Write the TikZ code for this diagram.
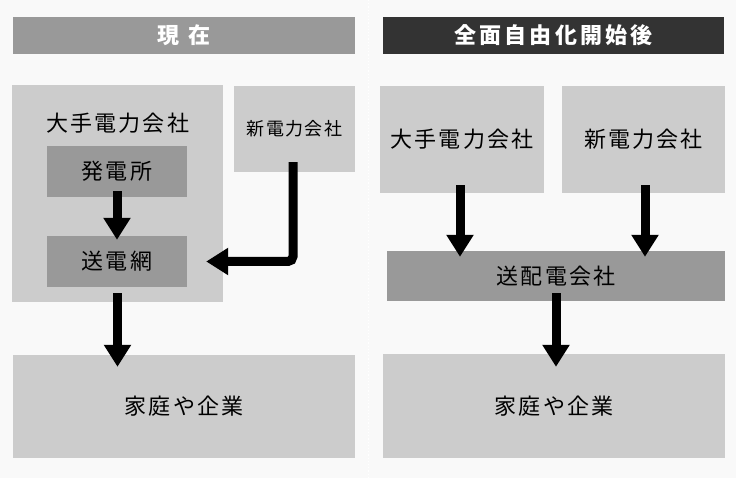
\documentclass[tikz,border=0pt]{standalone}
\usepackage{fontspec}
\usetikzlibrary{arrows.meta}
\newfontfamily\jp[LetterSpace=10]{Noto Sans CJK JP}
\newfontfamily\jps[LetterSpace=8]{Noto Sans CJK JP}
\newfontfamily\jph[LetterSpace=14]{Noto Sans CJK JP}
\definecolor{bgc}{HTML}{F9F9F9}
\definecolor{light}{HTML}{CCCCCC}
\definecolor{mid}{HTML}{999999}
\definecolor{dark}{HTML}{333333}
\tikzset{
  box/.style={fill=light, draw=none, inner sep=0pt, text=black, font=\jp\fontsize{22}{22}\selectfont},
  midbox/.style={box, fill=mid},
  head/.style={inner sep=0pt, text=white, font=\jph\fontsize{22}{22}\selectfont\bfseries},
  bigarrow/.style={line width=9pt, -{Triangle[width=26pt,length=22pt]}, black},
}
\begin{document}
\begin{tikzpicture}[x=1pt,y=-1pt]
\fill[bgc] (0,0) rectangle (736,478);
\useasboundingbox (0,0) rectangle (736,478);
\draw[white, line width=1.2pt, dotted] (368.5,0) -- (368.5,478);
% headers
\node[head, fill=mid, minimum width=342pt, minimum height=37pt] (hL) at (184,35.5) {現\hspace{0.45em}在};
\node[head, fill=dark, minimum width=341pt, minimum height=37pt] (hR) at (553.5,35.5) {全面自由化開始後};
% left panel
\node[box, minimum width=211pt, minimum height=217pt] (bigL) at (117.5,193.5) {};
\node[inner sep=0pt, font=\jp\fontsize{22}{22}\selectfont] (bigLlabel) at (117.5,123) {大手電力会社};
\node[midbox, minimum width=140pt, minimum height=51pt] (gen) at (117,171.5) {発電所};
\node[midbox, minimum width=140pt, minimum height=51pt] (grid) at (117,261.5) {送電網};
\node[box, minimum width=121pt, minimum height=86pt, font=\jps\fontsize{18}{18}\selectfont] (newL) at (294.5,129) {新電力会社};
\node[box, minimum width=342pt, minimum height=103pt] (homeL) at (184,406.5) {家庭や企業};
% right panel
\node[box, minimum width=164pt, minimum height=107pt] (bigR) at (462,139.5) {大手電力会社};
\node[box, minimum width=163pt, minimum height=107pt] (newR) at (643.5,139.5) {新電力会社};
\node[midbox, minimum width=338pt, minimum height=50pt] (tdR) at (556,276) {送配電会社};
\node[box, minimum width=342pt, minimum height=104pt] (homeR) at (554,406) {家庭や企業};
% arrows left
\draw[bigarrow] ([yshift=6pt]gen.south) -- ([yshift=-4pt]grid.north);
\draw[bigarrow] ([xshift=0.5pt,yshift=-6pt]grid.south) -- ([xshift=0.5pt,yshift=-12pt]grid.south |- homeL.north);
\coordinate (elbowstart) at ([xshift=-1.5pt,yshift=10pt]newL.south);
\coordinate (elbowtip) at ([xshift=19pt]grid.east);
\draw[bigarrow, rounded corners=5pt] (elbowstart) |- (elbowtip);
% arrows right
\coordinate (bR) at (460,0);
\coordinate (nR) at (645,0);
\draw[bigarrow] ([yshift=8pt]bR |- bigR.south) -- ([yshift=-6pt]bR |- tdR.north);
\draw[bigarrow] ([yshift=8pt]nR |- newR.south) -- ([yshift=-6pt]nR |- tdR.north);
\draw[bigarrow] ([yshift=8pt]tdR.south) -- ([yshift=-13pt]tdR.south |- homeR.north);
\end{tikzpicture}
\end{document}
